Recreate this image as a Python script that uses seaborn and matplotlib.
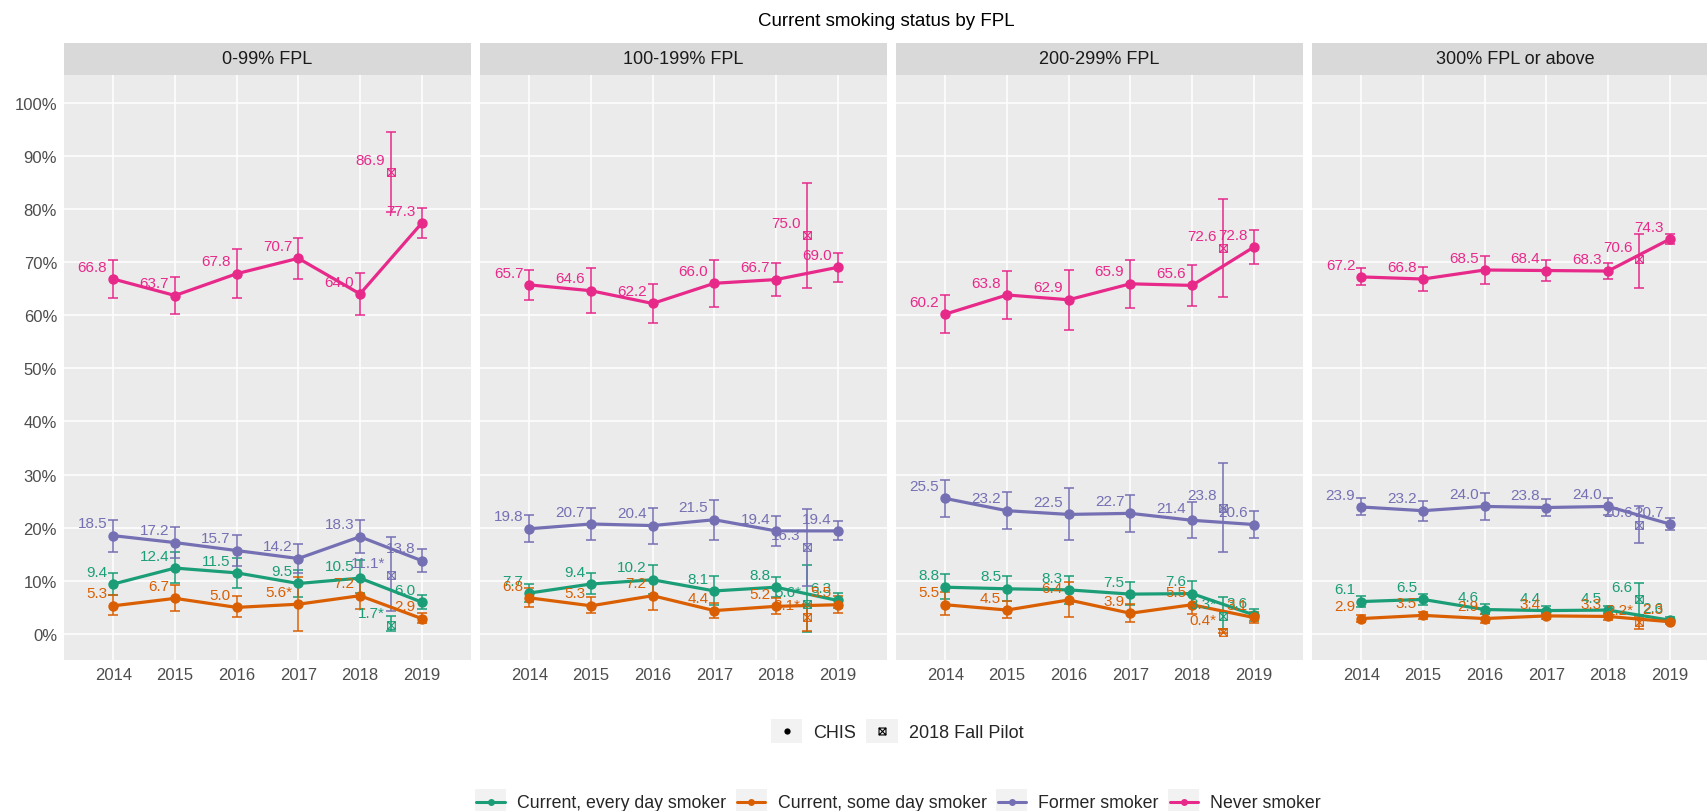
import numpy as np
import pandas as pd
import matplotlib
matplotlib.use("Agg")
import matplotlib.pyplot as plt
from matplotlib.path import Path
from matplotlib.lines import Line2D
from matplotlib.patches import Rectangle
from matplotlib.legend_handler import HandlerBase
import seaborn as sns

# ---------------------------------------------------------------- data
years = [2014, 2015, 2016, 2017, 2018, 2019]
pilot_year = 2018.5
fpl_groups = ["0-99% FPL", "100-199% FPL", "200-299% FPL", "300% FPL or above"]
statuses = ["Current, every day smoker", "Current, some day smoker",
            "Former smoker", "Never smoker"]

# CHIS estimates (%), one row per FPL group, one column per year
every_day = [[9.4, 12.4, 11.5, 9.5, 10.5, 6.0],
             [7.7, 9.4, 10.2, 8.1, 8.8, 6.3],
             [8.8, 8.5, 8.3, 7.5, 7.6, 3.6],
             [6.1, 6.5, 4.6, 4.4, 4.5, 2.6]]
every_day_lo = [[7.4, 9.6, 8.7, 7.0, 7.7, 4.7],
                [6.1, 7.5, 7.6, 5.5, 6.9, 4.9],
                [6.5, 6.2, 5.7, 5.4, 5.5, 2.5],
                [5.1, 5.5, 3.7, 3.7, 3.8, 2.1]]
every_day_hi = [[11.4, 15.4, 14.3, 12.0, 13.9, 7.4],
                [9.4, 11.5, 12.9, 10.9, 10.8, 7.7],
                [11.2, 11.0, 11.0, 9.8, 9.9, 4.7],
                [7.2, 7.6, 5.6, 5.2, 5.3, 3.1]]

some_day = [[5.3, 6.7, 5.0, 5.6, 7.2, 2.9],
            [6.8, 5.3, 7.2, 4.4, 5.2, 5.5],
            [5.5, 4.5, 6.4, 3.9, 5.5, 3.1],
            [2.9, 3.5, 2.9, 3.4, 3.3, 2.3]]
some_day_lo = [[3.5, 4.4, 3.1, 0.6, 4.7, 2.0],
               [5.1, 3.9, 4.6, 3.0, 3.8, 4.0],
               [3.6, 3.0, 3.2, 2.2, 3.7, 2.1],
               [2.3, 2.8, 2.0, 2.8, 2.7, 1.8]]
some_day_hi = [[7.3, 9.2, 7.1, 10.8, 10.2, 3.9],
               [8.6, 6.9, 9.9, 5.9, 6.8, 7.1],
               [7.9, 6.2, 9.8, 5.6, 7.3, 4.1],
               [3.5, 4.2, 3.8, 4.0, 3.9, 2.8]]

former = [[18.5, 17.2, 15.7, 14.2, 18.3, 13.8],
          [19.8, 20.7, 20.4, 21.5, 19.4, 19.4],
          [25.5, 23.2, 22.5, 22.7, 21.4, 20.6],
          [23.9, 23.2, 24.0, 23.8, 24.0, 20.7]]
former_lo = [[15.5, 14.3, 12.7, 11.5, 15.2, 11.6],
             [17.3, 17.7, 17.0, 17.7, 16.6, 17.6],
             [22.1, 19.7, 17.6, 19.2, 18.0, 18.0],
             [22.3, 21.3, 21.5, 22.2, 22.4, 19.6]]
former_hi = [[21.5, 20.1, 18.7, 16.9, 21.4, 16.0],
             [22.3, 23.7, 23.8, 25.3, 22.2, 21.2],
             [28.9, 26.8, 27.4, 26.2, 24.8, 23.2],
             [25.5, 25.1, 26.5, 25.4, 25.6, 21.8]]

never = [[66.8, 63.7, 67.8, 70.7, 64.0, 77.3],
         [65.7, 64.6, 62.2, 66.0, 66.7, 69.0],
         [60.2, 63.8, 62.9, 65.9, 65.6, 72.8],
         [67.2, 66.8, 68.5, 68.4, 68.3, 74.3]]
never_lo = [[63.2, 60.2, 63.2, 66.9, 60.1, 74.5],
            [62.9, 60.4, 58.6, 61.6, 63.6, 66.3],
            [56.6, 59.3, 57.3, 61.4, 61.8, 69.6],
            [65.6, 64.6, 65.8, 66.5, 66.8, 73.3]]
never_hi = [[70.4, 67.2, 72.5, 74.5, 67.9, 80.1],
            [68.5, 68.8, 65.8, 70.4, 69.8, 71.7],
            [63.8, 68.3, 68.5, 70.4, 69.4, 76.0],
            [68.8, 69.0, 71.2, 70.3, 69.8, 75.3]]

# 2018 Fall Pilot estimates, one value per FPL group (None = not reported)
pilot_every_day = [1.7, 5.6, 3.3, 6.6]
pilot_every_day_lo = [0.5, 0.3, 0.9, 3.6]
pilot_every_day_hi = [3.4, 12.9, 7.0, 9.6]
pilot_some_day = [None, 3.1, 0.4, 2.2]
pilot_some_day_lo = [None, 0.6, 0.1, 1.0]
pilot_some_day_hi = [None, 5.6, 1.0, 3.2]
pilot_former = [11.1, 16.3, 23.8, 20.6]
pilot_former_lo = [4.4, 9.1, 15.4, 17.1]
pilot_former_hi = [18.2, 23.5, 32.2, 24.1]
pilot_never = [86.9, 75.0, 72.6, 70.6]
pilot_never_lo = [79.5, 65.2, 63.5, 65.2]
pilot_never_hi = [94.5, 84.8, 81.9, 75.2]

# statistically unstable estimates, flagged with an asterisk
unstable_chis = [("Current, some day smoker", "0-99% FPL", 2017)]
unstable_pilot = [("Current, every day smoker", "0-99% FPL"),
                  ("Former smoker", "0-99% FPL"),
                  ("Current, every day smoker", "100-199% FPL"),
                  ("Current, some day smoker", "100-199% FPL"),
                  ("Current, every day smoker", "200-299% FPL"),
                  ("Current, some day smoker", "200-299% FPL"),
                  ("Current, some day smoker", "300% FPL or above")]

palette = dict(zip(statuses, ["#1B9E77", "#D95F02", "#7570B3", "#E7298A"]))

# ---------------------------------------------------------------- tidy frames
chis_series = {statuses[0]: (every_day, every_day_lo, every_day_hi),
               statuses[1]: (some_day, some_day_lo, some_day_hi),
               statuses[2]: (former, former_lo, former_hi),
               statuses[3]: (never, never_lo, never_hi)}
pilot_series = {statuses[0]: (pilot_every_day, pilot_every_day_lo, pilot_every_day_hi),
                statuses[1]: (pilot_some_day, pilot_some_day_lo, pilot_some_day_hi),
                statuses[2]: (pilot_former, pilot_former_lo, pilot_former_hi),
                statuses[3]: (pilot_never, pilot_never_lo, pilot_never_hi)}

rows = []
for status, (val, lo, hi) in chis_series.items():
    for g, group in enumerate(fpl_groups):
        for y, year in enumerate(years):
            star = "*" if (status, group, year) in unstable_chis else ""
            rows.append(dict(group=group, status=status, year=year,
                             pct=val[g][y], lo=lo[g][y], hi=hi[g][y],
                             label=f"{val[g][y]:.1f}{star}"))
chis = pd.DataFrame(rows)

rows = []
for status, (val, lo, hi) in pilot_series.items():
    for g, group in enumerate(fpl_groups):
        if val[g] is None:
            continue
        star = "*" if (status, group) in unstable_pilot else ""
        rows.append(dict(group=group, status=status, year=pilot_year,
                         pct=val[g], lo=lo[g], hi=hi[g],
                         label=f"{val[g]:.1f}{star}"))
pilot = pd.DataFrame(rows)

# ---------------------------------------------------------------- style
sns.set_style("darkgrid", rc={"axes.facecolor": "#EBEBEB",
                              "grid.color": "white",
                              "axes.edgecolor": "none"})
plt.rcParams["font.family"] = ["Liberation Sans", "DejaVu Sans"]

# square-with-cross marker for the pilot survey
pilot_marker = Path([(-1, -1), (1, -1), (1, 1), (-1, 1), (-1, -1),
                     (-1, -1), (1, 1), (-1, 1), (1, -1)],
                    [Path.MOVETO, Path.LINETO, Path.LINETO, Path.LINETO, Path.CLOSEPOLY,
                     Path.MOVETO, Path.LINETO, Path.MOVETO, Path.LINETO])


class KeyHandler(HandlerBase):
    """Legend key: grey box with an optional line and a centred marker."""

    def create_artists(self, legend, orig_handle, xdescent, ydescent,
                       width, height, fontsize, trans):
        x0, y0 = -xdescent, -ydescent
        cx, cy = x0 + width / 2, y0 + height / 2
        arts = [Rectangle((x0, y0), width, height, facecolor="#F2F2F2",
                          edgecolor="none", transform=trans)]
        if orig_handle.get_linestyle() not in ("None", "none", ""):
            arts.append(Line2D([x0 + 1, x0 + width - 1], [cy, cy],
                               color=orig_handle.get_color(),
                               lw=orig_handle.get_linewidth(), transform=trans))
        arts.append(Line2D([cx], [cy], ls="none", marker=orig_handle.get_marker(),
                           ms=orig_handle.get_markersize(),
                           mfc=orig_handle.get_markerfacecolor(),
                           mec=orig_handle.get_markeredgecolor(),
                           mew=orig_handle.get_markeredgewidth(), transform=trans))
        return arts


W, H = 1708, 812
fig = plt.figure(figsize=(W / 100, H / 100), dpi=100)

panel_w, gap = 407, 9
left0, top_px, bottom_px, strip_top = 64, 76, 661, 43.6

for g, group in enumerate(fpl_groups):
    x0 = left0 + g * (panel_w + gap)
    ax = fig.add_axes([x0 / W, (H - bottom_px) / H, panel_w / W, (bottom_px - top_px) / H])
    sub = chis[chis.group == group]
    psub = pilot[pilot.group == group]

    sns.lineplot(data=sub, x="year", y="pct", hue="status", hue_order=statuses,
                 palette=palette, marker="o", markersize=7.5, markeredgewidth=0,
                 linewidth=2.3, errorbar=None, legend=False, ax=ax, zorder=3)

    for status in statuses:
        c = palette[status]
        s = sub[sub.status == status]
        ax.errorbar(s.year, s.pct, yerr=[s.pct - s.lo, s.hi - s.pct], fmt="none",
                    ecolor=c, elinewidth=1.1, capsize=3.3, capthick=1.1, zorder=2)
        p = psub[psub.status == status]
        if len(p):
            ax.errorbar(p.year, p.pct, yerr=[p.pct - p.lo, p.hi - p.pct], fmt="none",
                        ecolor=c, elinewidth=1.1, capsize=3.3, capthick=1.1, zorder=2)
            ax.plot(p.year, p.pct, ls="none", marker=pilot_marker, ms=5.5,
                    mfc="none", mec=c, mew=0.8, zorder=4)

    for df in (sub, psub):
        for _, r in df.iterrows():
            ax.annotate(r.label, (r.year, r.pct), xytext=(-4.3, 6),
                        textcoords="offset points", ha="right", va="baseline",
                        fontsize=11, color=palette[r.status], zorder=5)

    ax.set_xlim(2013.2, 2019.8)
    ax.set_ylim(-4.9, 105.2)
    ax.set_xticks(years)
    ax.set_yticks(np.arange(0, 101, 10))
    ax.set_yticklabels([f"{v}%" for v in range(0, 101, 10)])
    ax.grid(which="major", color="white", linewidth=1.1)
    ax.set_axisbelow(True)
    ax.set_xlabel("")
    ax.set_ylabel("")
    for sp in ax.spines.values():
        sp.set_visible(False)
    ax.tick_params(axis="both", which="major", length=2.75, width=0.8, color="#333333",
                   labelcolor="#4D4D4D", labelsize=12, pad=2.2)
    if g > 0:
        ax.tick_params(axis="y", which="both", left=False, labelleft=False)

    # facet strip
    sax = fig.add_axes([x0 / W, (H - top_px) / H, panel_w / W, (top_px - strip_top) / H])
    sax.set_facecolor("#D9D9D9")
    sax.set_xticks([])
    sax.set_yticks([])
    sax.grid(False)
    for sp in sax.spines.values():
        sp.set_visible(False)
    sax.text(0.5, 0.5, group, ha="center", va="center", fontsize=13,
             color="#1A1A1A", transform=sax.transAxes)

fig.text(886 / W, 1 - 21 / H, "Current smoking status by FPL", ha="center",
         va="center", fontsize=13.5, color="black")

# legends
src_handles = [Line2D([], [], ls="none", marker="o", ms=4.5, mfc="black",
                      mec="black", mew=0),
               Line2D([], [], ls="none", marker=pilot_marker, ms=5,
                      mfc="none", mec="black", mew=0.8)]
fig.legend(src_handles, ["CHIS", "2018 Fall Pilot"],
           handler_map={Line2D: KeyHandler()},
           loc="center", bbox_to_anchor=(897 / W, 1 - 732 / H), ncol=2,
           frameon=False, fontsize=13, handlelength=1.75, handleheight=1.75,
           handletextpad=0.6, columnspacing=0.55, borderpad=0, borderaxespad=0)

status_handles = [Line2D([], [], color=palette[s], lw=2.2, marker="o", ms=5,
                         mfc=palette[s], mec=palette[s], mew=0) for s in statuses]
fig.legend(status_handles, statuses,
           handler_map={Line2D: KeyHandler()},
           loc="center", bbox_to_anchor=(898 / W, 1 - 802.5 / H), ncol=4,
           frameon=False, fontsize=12.8, handlelength=1.75, handleheight=1.75,
           handletextpad=0.6, columnspacing=0.55, borderpad=0, borderaxespad=0)

fig.savefig("out.png", dpi=100, facecolor="white")
